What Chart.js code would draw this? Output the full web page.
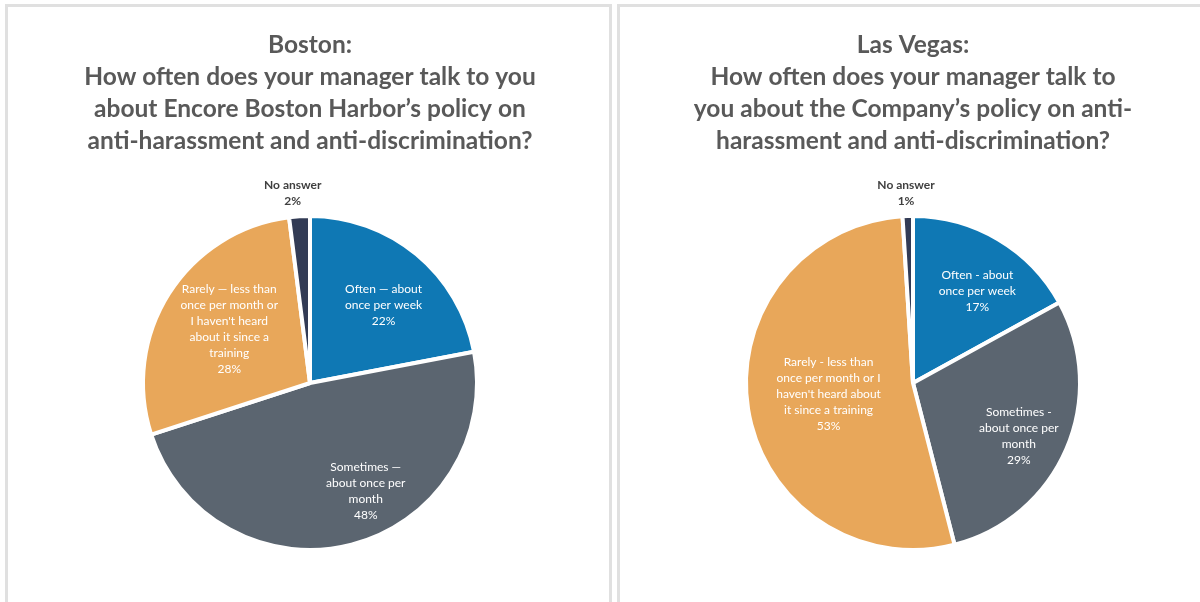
<!DOCTYPE html>
<html>
<head>
<meta charset="utf-8">
<script src="https://cdn.jsdelivr.net/npm/chart.js@4.4.1/dist/chart.umd.min.js"></script>
<style>
  html, body { margin: 0; padding: 0; background: #fff; overflow: hidden; }
  body { width: 1200px; height: 602px; position: relative; }
  .panel {
    position: absolute;
    top: 4px;
    border: 3px solid #e0e0e0;
    border-bottom: none;
    background: #fff;
  }
  .panel canvas { display: block; }
</style>
</head>
<body>
<div class="panel" style="left:5px;width:601px;height:598px"><canvas id="bostonChart" width="601" height="595"></canvas></div>
<div class="panel" style="left:617px;width:601px;height:598px"><canvas id="vegasChart" width="601" height="595"></canvas></div>

<script>
// answers, clockwise from 12 o'clock
var bostonTitle = [
  'Boston:',
  'How often does your manager talk to you',
  'about Encore Boston Harbor\u2019s policy on',
  'anti-harassment and anti-discrimination?'
];
var bostonLabels = [
  ['Often \u2014 about', 'once per week'],
  ['Sometimes \u2014', 'about once per', 'month'],
  ['Rarely \u2014 less than', 'once per month or', 'I haven\'t heard', 'about it since a', 'training'],
  ['No answer']
];
var bostonValues = [22, 48, 28, 2];

var vegasTitle = [
  'Las Vegas:',
  'How often does your manager talk to',
  'you about the Company\u2019s policy on anti-',
  'harassment and anti-discrimination?'
];
var vegasLabels = [
  ['Often - about', 'once per week'],
  ['Sometimes -', 'about once per', 'month'],
  ['Rarely - less than', 'once per month or I', 'haven\'t heard about', 'it since a training'],
  ['No answer']
];
var vegasValues = [17, 29, 53, 1];

var sliceColors = ['#0F78B4', '#5B6570', '#E8A75A', '#323B55'];

// data labels drawn inside (or just outside) each slice
var sliceLabels = {
  id: 'sliceLabels',
  afterDatasetsDraw: function (chart, args, opts) {
    var ctx = chart.ctx;
    var meta = chart.getDatasetMeta(0);
    var values = chart.data.datasets[0].data;
    ctx.save();
    ctx.textAlign = 'center';
    ctx.textBaseline = 'middle';
    meta.data.forEach(function (arc, i) {
      var p = arc.getProps(['x', 'y', 'startAngle', 'endAngle', 'outerRadius'], true);
      var a = (p.startAngle + p.endAngle) / 2 + opts.turn[i] * Math.PI / 180;
      var r = p.outerRadius * opts.dist[i];
      var cx = p.x + Math.cos(a) * r;
      var cy = p.y + Math.sin(a) * r;
      var lines = chart.data.labels[i].concat([values[i] + '%']);
      var top = cy - (lines.length - 1) * opts.lineHeight / 2;
      var outside = opts.dist[i] > 1;
      ctx.font = (outside ? 'bold ' : '') + opts.fontSize + 'px Lato, "Open Sans", sans-serif';
      ctx.fillStyle = outside ? '#404040' : '#ffffff';
      lines.forEach(function (t, k) {
        ctx.fillText(t, cx, top + k * opts.lineHeight);
      });
    });
    ctx.restore();
  }
};

function makePie(id, title, labels, values, pad, dist, turn) {
  return new Chart(document.getElementById(id), {
    type: 'pie',
    data: {
      labels: labels,
      datasets: [{
        data: values,
        backgroundColor: sliceColors,
        borderColor: '#ffffff',
        borderWidth: 4
      }]
    },
    options: {
      responsive: false,
      animation: false,
      layout: { padding: pad },
      plugins: {
        legend: { display: false },
        tooltip: { enabled: false },
        title: {
          display: true,
          text: title,
          color: '#595959',
          font: { family: 'Lato', size: 24.5, weight: 'bold', lineHeight: '32px' },
          padding: { top: 22, bottom: 57 }
        },
        sliceLabels: { fontSize: 12, lineHeight: 16, dist: dist, turn: turn }
      }
    },
    plugins: [sliceLabels]
  });
}

makePie('bostonChart', bostonTitle, bostonLabels, bostonValues,
  { left: 3, right: 0, top: 0, bottom: 50 },
  [0.64, 0.73, 0.58, 1.14], [3.9, -12.8, 1.1, -1.6]);

makePie('vegasChart', vegasTitle, vegasLabels, vegasValues,
  { left: 0, right: 15, top: 0, bottom: 50 },
  [0.67, 0.71, 0.51, 1.14], [4.5, 3.4, 1.5, -0.3]);
</script>
</body>
</html>
